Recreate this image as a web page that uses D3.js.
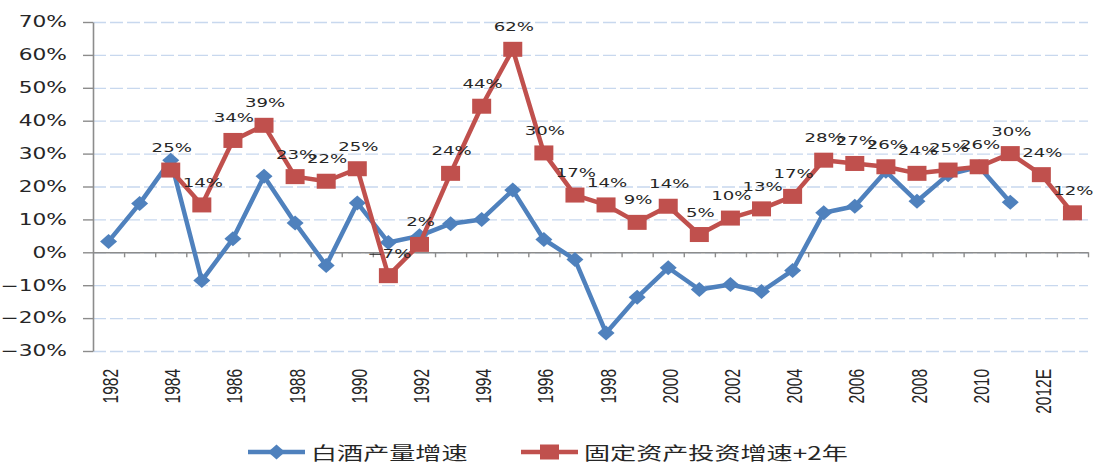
<!DOCTYPE html>
<html>
<head>
<meta charset="utf-8">
<script src="https://cdn.jsdelivr.net/npm/d3@7"></script>
<style>
  body { margin: 0; background: #fff; }
  svg { display: block; }
</style>
</head>
<body>
<svg id="chart" width="1095" height="463"></svg>
<script>
// categories (one per year), last two are estimates
var categories = ["1982","1983","1984","1985","1986","1987","1988","1989","1990","1991",
    "1992","1993","1994","1995","1996","1997","1998","1999","2000","2001",
    "2002","2003","2004","2005","2006","2007","2008","2009","2010","2011","2012E","2013E"];

// 白酒产量增速, 1982 - 2011 (%)
var baijiu_years = categories.slice(0, 30);
var baijiu_growth = [3.3, 14.8, 28, -8.6, 4.1, 23.1, 8.9, -4, 15, 3,
    5, 8.7, 10, 18.9, 3.9, -2.2, -24.5, -13.7, -4.7, -11.3,
    -9.8, -11.9, -5.5, 12, 14, 24.6, 15.5, 23.6, 26, 15.2];

// 固定资产投资增速+2年, 1984 - 2013 (%)
var invest_years = categories.slice(2);
var invest_growth = [25, 14.4, 34, 38.6, 23, 21.6, 25.4, -7.1, 2.4, 24,
    44.4, 61.7, 30.2, 17.4, 14.4, 9.1, 14, 5.4, 10.4, 13.2,
    17, 28, 27, 26, 24, 25, 26, 30, 23.6, 12];

var y_ticks = [-0.3, -0.2, -0.1, 0, 0.1, 0.2, 0.3, 0.4, 0.5, 0.6, 0.7];
var legend_names = ["白酒产量增速", "固定资产投资增速+2年"];

var blue = "#4f81bd", red = "#c0504d";
var sx = 1.45; // the picture is stretched sideways, so text is too

var svg = d3.select("#chart");
var plot_left = 93, plot_right = 1088, plot_top = 22, plot_bottom = 351;

var x = d3.scaleBand().domain(categories).range([plot_left, plot_right]).padding(0);
var x_edge = d3.scaleLinear().domain([0, categories.length]).range([plot_left, plot_right]);
var y = d3.scaleLinear().domain([-0.3, 0.7]).range([plot_bottom, plot_top]);

// dashed grid lines
svg.append("g")
    .attr("class", "grid")
    .attr("transform", "translate(" + plot_left + ",0)")
    .call(d3.axisLeft(y).tickValues(y_ticks).tickSize(-(plot_right - plot_left)).tickFormat(""))
    .call(function (g) { g.select(".domain").remove(); })
    .selectAll("line")
    .attr("stroke", "#c8d8ee")
    .attr("stroke-width", 1.3)
    .attr("stroke-dasharray", "13,4");

// y axis
var y_axis = svg.append("g")
    .attr("transform", "translate(" + plot_left + ",0)")
    .call(d3.axisLeft(y).tickValues(y_ticks).tickFormat(d3.format(".0%")).tickSize(10).tickSizeOuter(0));
y_axis.select(".domain").attr("stroke", "#8c8c8c").attr("stroke-width", 1.6);
y_axis.selectAll(".tick line").attr("stroke", "#8c8c8c").attr("stroke-width", 1.4);
y_axis.selectAll(".tick text")
    .attr("x", 0)
    .attr("transform", "translate(-26,0) scale(" + sx + ",1)")
    .attr("font-family", "DejaVu Sans")
    .attr("font-size", 15)
    .attr("fill", "#262626");

// category axis line at zero with ticks on the category edges
var edge_ticks = d3.range(1, categories.length + 1);
var x_axis = svg.append("g")
    .attr("transform", "translate(0," + y(0) + ")")
    .call(d3.axisBottom(x_edge).tickValues(edge_ticks).tickFormat("").tickSize(5).tickSizeOuter(0));
x_axis.select(".domain").attr("stroke", "#8c8c8c").attr("stroke-width", 1.6);
x_axis.selectAll(".tick line").attr("stroke", "#8c8c8c").attr("stroke-width", 1.4);

// category labels, every other year, placed low
var label_axis = svg.append("g")
    .attr("transform", "translate(0," + plot_bottom + ")")
    .call(d3.axisBottom(x).tickValues(categories.filter(function (d, i) { return i % 2 === 0; })).tickSize(0));
label_axis.select(".domain").remove();
label_axis.selectAll(".tick text")
    .attr("x", 0).attr("y", 0).attr("dy", null)
    .attr("transform", "translate(2,18) scale(" + sx + ",1) rotate(-90)")
    .attr("text-anchor", "end")
    .attr("dominant-baseline", "central")
    .attr("font-family", "Liberation Sans")
    .attr("font-size", 15.5)
    .attr("fill", "#262626");

var line = d3.line()
    .x(function (d) { return x(d.c) + x.bandwidth() / 2; })
    .y(function (d) { return y(d.v / 100); });

var blue_data = baijiu_years.map(function (c, i) { return { c: c, v: baijiu_growth[i] }; });
var red_data = invest_years.map(function (c, i) { return { c: c, v: invest_growth[i] }; });

var diamond = "M0,-7.5L8.5,0L0,7.5L-8.5,0Z";

// blue series
svg.append("path").datum(blue_data)
    .attr("d", line).attr("fill", "none")
    .attr("stroke", blue).attr("stroke-width", 4.5).attr("stroke-linejoin", "round");
svg.append("g").selectAll("path").data(blue_data).join("path")
    .attr("d", diamond)
    .attr("transform", function (d) { return "translate(" + (x(d.c) + x.bandwidth() / 2) + "," + y(d.v / 100) + ")"; })
    .attr("fill", blue);

// red series
svg.append("path").datum(red_data)
    .attr("d", line).attr("fill", "none")
    .attr("stroke", red).attr("stroke-width", 4.5).attr("stroke-linejoin", "round");
svg.append("g").selectAll("rect").data(red_data).join("rect")
    .attr("x", function (d) { return x(d.c) + x.bandwidth() / 2 - 9.5; })
    .attr("y", function (d) { return y(d.v / 100) - 7.5; })
    .attr("width", 19).attr("height", 15)
    .attr("fill", red);

// data labels on the red series
svg.append("g").selectAll("text").data(red_data).join("text")
    .attr("transform", function (d) {
        return "translate(" + (x(d.c) + x.bandwidth() / 2 + 1) + "," + (y(d.v / 100) - 18) + ") scale(" + sx + ",1)";
    })
    .attr("text-anchor", "middle")
    .attr("font-family", "DejaVu Sans")
    .attr("font-size", 12.5)
    .attr("fill", "#262626")
    .text(function (d) { return d3.format(".0%")(d.v / 100); });

// legend
var legend = [
    { name: legend_names[0], color: blue, x0: 248, shape: "diamond" },
    { name: legend_names[1], color: red, x0: 521, shape: "square" }
];
var ly = 452;
var lg = svg.append("g").selectAll("g").data(legend).join("g")
    .attr("transform", function (d) { return "translate(" + d.x0 + "," + ly + ")"; });
lg.append("line")
    .attr("x1", 0).attr("x2", 57).attr("y1", 0).attr("y2", 0)
    .attr("stroke", function (d) { return d.color; }).attr("stroke-width", 4.5);
lg.filter(function (d) { return d.shape === "diamond"; }).append("path")
    .attr("d", diamond).attr("transform", "translate(28.5,0)").attr("fill", blue);
lg.filter(function (d) { return d.shape === "square"; }).append("rect")
    .attr("x", 19).attr("y", -7.5).attr("width", 19).attr("height", 15).attr("fill", red);
lg.append("text")
    .attr("transform", "translate(63,0) scale(" + sx + ",1)")
    .attr("dominant-baseline", "central")
    .attr("font-family", "Noto Sans CJK SC")
    .attr("font-size", 18)
    .attr("fill", "#262626")
    .text(function (d) { return d.name; });
</script>
</body>
</html>
